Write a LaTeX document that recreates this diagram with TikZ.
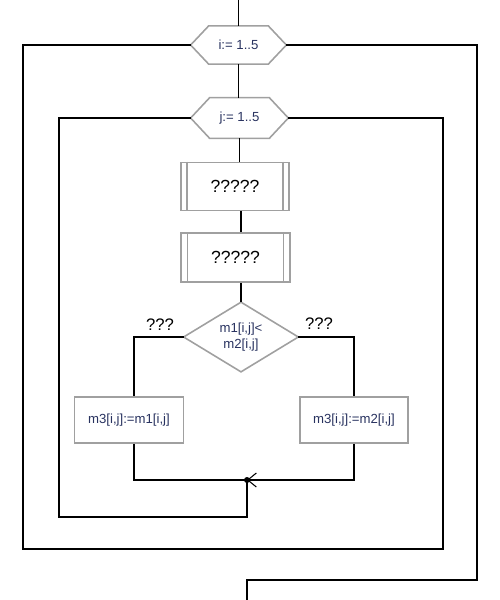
\documentclass[tikz,border=0pt]{standalone}
\usepackage{fontspec}
\setmainfont{Liberation Sans}
\usetikzlibrary{arrows.meta}
\definecolor{shapegray}{RGB}{160,160,160}
\definecolor{txtblue}{RGB}{40,50,95}
\begin{document}
\begin{tikzpicture}[x=0.02cm,y=-0.02cm,
 shapeline/.style={draw=shapegray,line width=0.9pt},
 conn/.style={draw=black,line width=0.6pt},
 hexnode/.style={minimum width=#1,minimum height=0.75cm,inner sep=0pt,text=txtblue,font=\fontsize{7.5}{9}\selectfont},
 procbox/.style={shapeline,minimum width=2.17cm,minimum height=0.96cm,inner sep=0pt,font=\fontsize{10}{12}\selectfont},
 assignbox/.style={shapeline,minimum width=2.18cm,minimum height=0.92cm,inner sep=0pt,text=txtblue,font=\fontsize{7.5}{9}\selectfont},
 decnode/.style={minimum width=2.28cm,minimum height=1.38cm,inner sep=0pt,text=txtblue,align=center,font=\fontsize{7.5}{9}\selectfont},
 lbl/.style={font=\fontsize{9.5}{11}\selectfont}
]
\useasboundingbox (0,0) rectangle (500,600);

% loop headers
\node[hexnode=1.9cm] (ih) at (238.5,45) {i:= 1..5};
\draw[shapeline] (ih.west) -- ([xshift=0.36cm]ih.north west) -- ([xshift=-0.36cm]ih.north east) -- (ih.east) -- ([xshift=-0.36cm]ih.south east) -- ([xshift=0.36cm]ih.south west) -- cycle;
\node[hexnode=1.94cm,minimum height=0.8cm] (jh) at (239.5,118) {j:= 1..5};
\draw[shapeline] (jh.west) -- ([xshift=0.38cm]jh.north west) -- ([xshift=-0.38cm]jh.north east) -- (jh.east) -- ([xshift=-0.38cm]jh.south east) -- ([xshift=0.38cm]jh.south west) -- cycle;

% predefined processes
\node[procbox] (b1) at (235,186.5) {?????};
\draw[shapeline] ([xshift=0.14cm]b1.north west) -- ([xshift=0.14cm]b1.south west);
\draw[shapeline] ([xshift=-0.14cm]b1.north east) -- ([xshift=-0.14cm]b1.south east);
\node[procbox,minimum height=0.98cm] (b2) at (235.5,257.5) {?????};
\draw[shapeline] ([xshift=0.14cm]b2.north west) -- ([xshift=0.14cm]b2.south west);
\draw[shapeline] ([xshift=-0.14cm]b2.north east) -- ([xshift=-0.14cm]b2.south east);

% decision
\node[decnode] (dm) at (241,337) {m1[i,j]<\\m2[i,j]};
\draw[shapeline] (dm.west) -- (dm.north) -- (dm.east) -- (dm.south) -- cycle;
\node[lbl] (ly) at (160,325) {???};
\node[lbl] (ry) at (319,324) {???};

% assignments
\node[assignbox] (lb) at (129,420) {m3[i,j]:=m1[i,j]};
\node[assignbox,minimum width=2.16cm] (rb) at (354,420) {m3[i,j]:=m2[i,j]};

% coordinates
\coordinate (top) at (238.5,0);
\coordinate (jn) at (247,480);
\coordinate (ia) at (247,517);
\coordinate (ib) at (59,517);
\coordinate (ic) at (59,118);
\coordinate (oa) at (443,118);
\coordinate (ob) at (443,549);
\coordinate (oc) at (23,549);
\coordinate (od) at (23,45);
\coordinate (ea) at (477,45);
\coordinate (eb) at (477,580);
\coordinate (ec) at (247,580);
\coordinate (ed) at (247,600);

% connectors
\draw[conn] (top) -- (ih.north);
\draw[conn] (ih.south) -- (ih.south |- jh.north);
\draw[conn] (jh.south) -- (jh.south |- b1.north);
\draw[conn] (b1.south -| dm.north) -- (dm.north |- b2.north);
\draw[conn] (b2.south -| dm.north) -- (dm.north);
\draw[conn] (dm.west) -| ([xshift=0.1cm]lb.north);
\draw[conn] (dm.east) -| (rb.north);
\draw[conn] ([xshift=0.1cm]lb.south) |- (jn);
\draw[conn,-{Straight Barb[length=0.17cm,width=0.28cm]}] (rb.south) |- (jn);
\fill (jn) circle[radius=0.06cm];
\draw[conn] (jn) -- (ia) -- (ib) -- (ic) -- (jh.west);
\draw[conn] (jh.east) -- (oa) -- (ob) -- (oc) -- (od) -- (ih.west);
\draw[conn] (ih.east) -- (ea) -- (eb) -- (ec) -- (ed);
\end{tikzpicture}
\end{document}
